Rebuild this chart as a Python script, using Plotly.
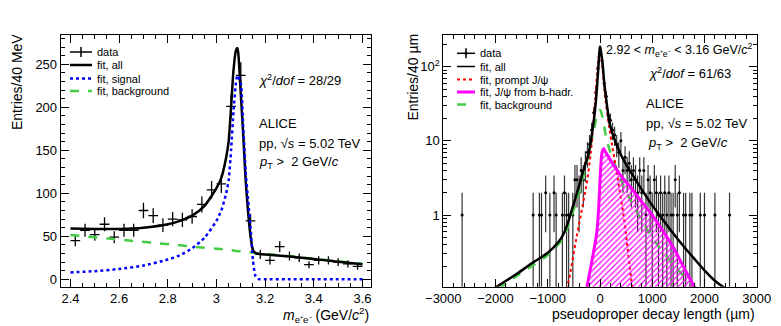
import numpy as np
import plotly.graph_objects as go

# the page body keeps an 8 px margin, so the figure is drawn 8 px smaller
PAGE_W, PAGE_H = 781, 326
OFF = 8
W, H = PAGE_W - OFF, PAGE_H - OFF
FONT = "Liberation Sans, Arial, sans-serif"

# LEFT PANEL: invariant mass
mass_bins = [2.42, 2.46, 2.50, 2.54, 2.58, 2.62, 2.66, 2.70, 2.74, 2.78,
             2.82, 2.86, 2.90, 2.94, 2.98, 3.02, 3.06, 3.10, 3.14, 3.18,
             3.22, 3.26, 3.30, 3.34, 3.38, 3.42, 3.46, 3.50, 3.54, 3.58]
mass_counts = [45, 57, 52, 64, 49, 57, 57, 80, 74, 63,
               70, 69, 73, 87, 104, 111, 201, 237, 68, 29,
               22, 38, 27, 25, 17, 22, 22, 20, 18, 15]

mass_fit = [2.40, 2.50, 2.60, 2.70, 2.80, 2.85, 2.90, 2.95, 3.00, 3.02,
            3.04, 3.05, 3.06, 3.07, 3.08, 3.086, 3.09, 3.10, 3.11, 3.12,
            3.13, 3.14, 3.15, 3.16, 3.17, 3.18, 3.20, 3.30, 3.40, 3.50, 3.60]
mass_fit_all = [59, 58.5, 58.5, 60, 64, 68, 74, 85, 106, 118,
                142, 160, 200, 243, 266, 269, 262, 215, 168, 115,
                78, 50, 34, 30.5, 29.8, 29.3, 28.8, 26.5, 23.5, 20.5, 17.5]
mass_fit_signal = [8, 9.5, 12, 16, 23, 28, 36, 48, 68, 80,
                   100, 115, 150, 195, 228, 237, 236, 228, 178, 125,
                   92, 60, 22, 4, 0.5, 0.1, 0, 0, 0, 0, 0]
mass_fit_bkg = [51.5, 49, 46, 43.5, 41, 39.5, 38, 37, 35.5, 35,
                34.5, 34, 34, 33.5, 33, 33, 32.8, 32.5, 32, 31.8,
                31.5, 31.2, 31, 30.7, 30.4, 30.2, 29.6, 26.8, 24, 21, 18]

# RIGHT PANEL: pseudoproper decay length
lxy_bins = [-2640, -1280, -1160, -1120, -1040, -960, -880, -840, -720, -680,
            -640, -600, -520, -480, -440, -400, -360, -320, -280, -240,
            -200, -160, -120, -80, -40, 0, 40, 80, 120, 160,
            200, 240, 280, 320, 360, 400, 440, 480, 520, 560,
            600, 640, 680, 720, 760, 800, 840, 880, 920, 960,
            1000, 1040, 1080, 1120, 1160, 1200, 1240, 1280, 1320, 1360,
            1400, 1440, 1480, 1520, 1600, 1640, 1720, 1760, 1920, 2000,
            2200, 2480]
lxy_counts = [1, 1, 1, 1, 2, 1, 2, 1, 1, 2,
              1, 1, 1, 3, 3, 2, 4, 3, 5, 7,
              9, 14, 24, 45, 95, 180, 120, 60, 40, 22,
              19, 14, 12, 9, 7, 10, 4, 6, 4, 5,
              3, 4, 3, 2, 4, 2, 4, 1, 3, 2,
              1, 3, 2, 1, 2, 1, 2, 1, 2, 1,
              1, 3, 1, 2, 1, 1, 1, 1, 1, 1,
              1, 1]

all_x = [-2050, -1800, -1600, -1280, -1000, -800, -700, -600, -500, -400,
         -300, -250, -200, -150, -100, -60, -30, 0, 25, 50,
         80, 120, 160, 200, 300, 400, 500, 600, 800, 1000,
         1200, 1400, 1600, 1800, 2000, 2200, 2420]
all_y = [0.1, 0.13, 0.16, 0.23, 0.31, 0.43, 0.55, 0.85, 1.45, 2.5,
         4.4, 5.6, 7.8, 13, 24, 50, 100, 185, 150, 110,
         62, 36, 22, 15.5, 9.5, 6.5, 4.8, 3.7, 2.2, 1.35,
         0.87, 0.57, 0.38, 0.26, 0.18, 0.13, 0.1]

prompt_x = [-650, -600, -450, -320, -250, -200, -160, -100, -50, 0,
            50, 100, 200, 290, 450, 520, 620]
prompt_y = [0.1, 0.13, 0.5, 1.5, 2.8, 5, 9, 30, 90, 170,
            90, 38, 12, 5, 1.0, 0.4, 0.1]

bhad_x = [-260, -150, -60, -20, 10, 40, 70, 100, 200, 400,
          600, 800, 1000, 1200, 1400, 1600, 1830]
bhad_y = [0.1, 0.25, 0.6, 1.5, 4, 7, 7.8, 7.2, 5.5, 3.4,
          2.3, 1.5, 1.0, 0.62, 0.37, 0.2, 0.1]

bkg_x = [-1950, -1600, -1280, -1000, -800, -700, -600, -500, -400, -300,
         -200, -100, -40, 0, 40, 100, 150, 200, 300, 400,
         500, 600, 800, 1000, 1200, 1400, 1600, 1800, 2000]
bkg_y = [0.1, 0.15, 0.21, 0.29, 0.4, 0.5, 0.75, 1.2, 2.1, 3.8,
         7.5, 16, 24, 26, 22, 13, 9, 7, 4.5, 3,
         2.1, 1.5, 0.85, 0.5, 0.32, 0.22, 0.15, 0.11, 0.085]

BLACK = "#000000"
BLUE = "#0000ff"
GREEN = "#44cc44"
RED = "#ff0000"
MAGENTA = "#ff00ff"

fig = go.Figure()

# left panel traces
mass_err = np.sqrt(mass_counts)
fig.add_trace(go.Scatter(
    x=mass_bins, y=mass_counts, mode="markers",
    marker=dict(size=1, color=BLACK),
    error_y=dict(type="data", array=mass_err, width=0, thickness=1.3, color=BLACK),
    error_x=dict(type="constant", value=0.02, width=0, thickness=1.3, color=BLACK),
    xaxis="x", yaxis="y", showlegend=False))
fig.add_trace(go.Scatter(
    x=mass_fit, y=mass_fit_bkg, mode="lines",
    line=dict(color=GREEN, width=2.5, dash="dash"),
    xaxis="x", yaxis="y", showlegend=False))
fig.add_trace(go.Scatter(
    x=mass_fit, y=mass_fit_all, mode="lines", line_shape="spline",
    line=dict(color=BLACK, width=2.5, smoothing=0.6),
    xaxis="x", yaxis="y", showlegend=False))
fig.add_trace(go.Scatter(
    x=mass_fit, y=mass_fit_signal, mode="lines", line_shape="spline",
    line=dict(color=BLUE, width=2.5, dash="dot", smoothing=0.6),
    xaxis="x", yaxis="y", showlegend=False))

# right panel traces
lxy_err = np.sqrt(lxy_counts)
fig.add_trace(go.Scatter(
    x=lxy_bins, y=lxy_counts, mode="markers",
    marker=dict(size=3, color=BLACK),
    error_y=dict(type="data", array=lxy_err, width=0, thickness=1.2, color="#333333"),
    error_x=dict(type="constant", value=20, width=0, thickness=1, color="#333333"),
    xaxis="x2", yaxis="y2", showlegend=False))
fig.add_trace(go.Scatter(
    x=bkg_x, y=bkg_y, mode="lines", line_shape="spline",
    line=dict(color=GREEN, width=2.5, dash="dash"),
    xaxis="x2", yaxis="y2", showlegend=False))
fig.add_trace(go.Scatter(
    x=prompt_x, y=prompt_y, mode="lines", line_shape="spline",
    line=dict(color=RED, width=2, dash="dot"),
    xaxis="x2", yaxis="y2", showlegend=False))
fig.add_trace(go.Scatter(
    x=bhad_x, y=bhad_y, mode="lines", line_shape="spline",
    line=dict(color=MAGENTA, width=3), fill="toself",
    fillcolor="rgba(0,0,0,0)",
    fillpattern=dict(shape="/", fgcolor=MAGENTA, bgcolor="rgba(0,0,0,0)",
                     size=4, solidity=0.3),
    xaxis="x2", yaxis="y2", showlegend=False))
fig.add_trace(go.Scatter(
    x=all_x, y=all_y, mode="lines", line_shape="spline",
    line=dict(color=BLACK, width=2.5),
    xaxis="x2", yaxis="y2", showlegend=False))


# page pixel -> paper coordinate
def px(x):
    return (x - OFF) / W


def py(y):
    return 1 - (y - OFF) / H


axis_common = dict(
    showline=True, linecolor=BLACK, linewidth=1, mirror="allticks",
    ticks="inside", tickcolor=BLACK, showgrid=False, zeroline=False,
    automargin=False,
    tickfont=dict(family=FONT, size=13, color=BLACK),
)

fig.update_layout(
    template="none",
    width=W, height=H,
    margin=dict(l=0, r=0, t=0, b=0, autoexpand=False),
    paper_bgcolor="white", plot_bgcolor="white",
    font=dict(family=FONT, color=BLACK),
    xaxis=dict(domain=[px(60.7), px(371)], range=[2.36, 3.635],
               tick0=2.4, dtick=0.2, ticklen=8,
               minor=dict(dtick=0.05, ticklen=4, tickcolor=BLACK, ticks="inside"),
               anchor="y", **axis_common),
    yaxis=dict(domain=[py(286.7), py(35)], range=[-8.6, 284],
               dtick=50, ticklen=8,
               minor=dict(dtick=10, ticklen=4, tickcolor=BLACK, ticks="inside"),
               anchor="x", **axis_common),
    xaxis2=dict(domain=[px(443.3), px(756.7)], range=[-3000, 3000],
                dtick=1000, ticklen=8,
                minor=dict(dtick=200, ticklen=4, tickcolor=BLACK, ticks="inside"),
                anchor="y2", **axis_common),
    yaxis2=dict(domain=[py(286.7), py(35)], type="log", range=[-0.966, 2.427],
                tickmode="array", tickvals=[1, 10, 100],
                ticktext=["1", "10", "10<sup>2</sup>"], ticklen=8,
                minor=dict(tickmode="array", ticklen=4, tickcolor=BLACK, ticks="inside",
                           tickvals=[0.2, 0.3, 0.4, 0.5, 0.6, 0.7, 0.8, 0.9,
                                     2, 3, 4, 5, 6, 7, 8, 9,
                                     20, 30, 40, 50, 60, 70, 80, 90, 200]),
                anchor="x2", **axis_common),
)


def text(x, y, s, size=13, xanchor="left", yanchor="middle", angle=0):
    fig.add_annotation(x=px(x), y=py(y), xref="paper", yref="paper", text=s,
                       showarrow=False, xanchor=xanchor, yanchor=yanchor,
                       textangle=angle, font=dict(family=FONT, size=size, color=BLACK))


def legend_entry(x0, x1, y, label, color, width, dash="solid", cross=False, dot=False):
    fig.add_shape(type="line", xref="paper", yref="paper",
                  x0=px(x0), x1=px(x1), y0=py(y), y1=py(y),
                  line=dict(color=color, width=width, dash=dash))
    if cross:
        xm = (x0 + x1) / 2
        fig.add_shape(type="line", xref="paper", yref="paper",
                      x0=px(xm), x1=px(xm), y0=py(y - 5), y1=py(y + 5),
                      line=dict(color=color, width=width))
    if dot:
        xm = (x0 + x1) / 2
        fig.add_shape(type="circle", xref="paper", yref="paper",
                      x0=px(xm - 1.5), x1=px(xm + 1.5), y0=py(y - 1.5), y1=py(y + 1.5),
                      fillcolor=color, line=dict(color=color, width=0))
    text(x1 + 3, y, label, size=11)


# left panel texts
text(17, 32, "Entries/40 MeV", size=14, xanchor="center", yanchor="top", angle=-90)
text(371, 314.5, "<i>m</i><sub>e⁺e⁻</sub> (GeV/<i>c</i><sup>2</sup>)", size=14, xanchor="right")
text(257, 80, "<i>χ</i><sup>2</sup>/<i>dof</i> = 28/29")
text(257, 123.5, "ALICE")
text(257, 143, "pp, √<i>s</i> = 5.02 TeV")
text(257, 162, "<i>p</i><sub>T</sub> >  2 GeV/<i>c</i>")

legend_entry(70, 92, 52, "data", BLACK, 1.5, cross=True)
legend_entry(70, 92, 65, "fit, all", BLACK, 2.5)
legend_entry(70, 92, 78.5, "fit, signal", BLUE, 2.5, dash="dot")
legend_entry(70, 92, 91, "fit, background", GREEN, 2.5, dash="dash")

# right panel texts
text(412, 32, "Entries/40 µm", size=14, xanchor="center", yanchor="top", angle=-90)
text(757, 314, "pseudoproper decay length (µm)", size=14, xanchor="right")
text(755, 50, "2.92 < <i>m</i><sub>e⁺e⁻</sub> < 3.16 GeV/<i>c</i><sup>2</sup>",
     size=12.5, xanchor="right")
text(690, 73, "<i>χ</i><sup>2</sup>/<i>dof</i> = 61/63", xanchor="center")
text(644, 104, "ALICE")
text(644, 123.5, "pp, √<i>s</i> = 5.02 TeV")
text(646, 143, "<i>p</i><sub>T</sub> >  2 GeV/<i>c</i>")

legend_entry(457, 475, 53.3, "data", BLACK, 1.5, cross=True, dot=True)
legend_entry(457, 475, 66.5, "fit, all", BLACK, 1.5)
legend_entry(457, 475, 79.5, "fit, prompt J/ψ", RED, 2, dash="dot")
legend_entry(457, 475, 92, "fit, J/ψ from b-hadr.", MAGENTA, 3)
legend_entry(457, 475, 104.5, "fit, background", GREEN, 2.5, dash="dash")

fig.write_html("out.html")
